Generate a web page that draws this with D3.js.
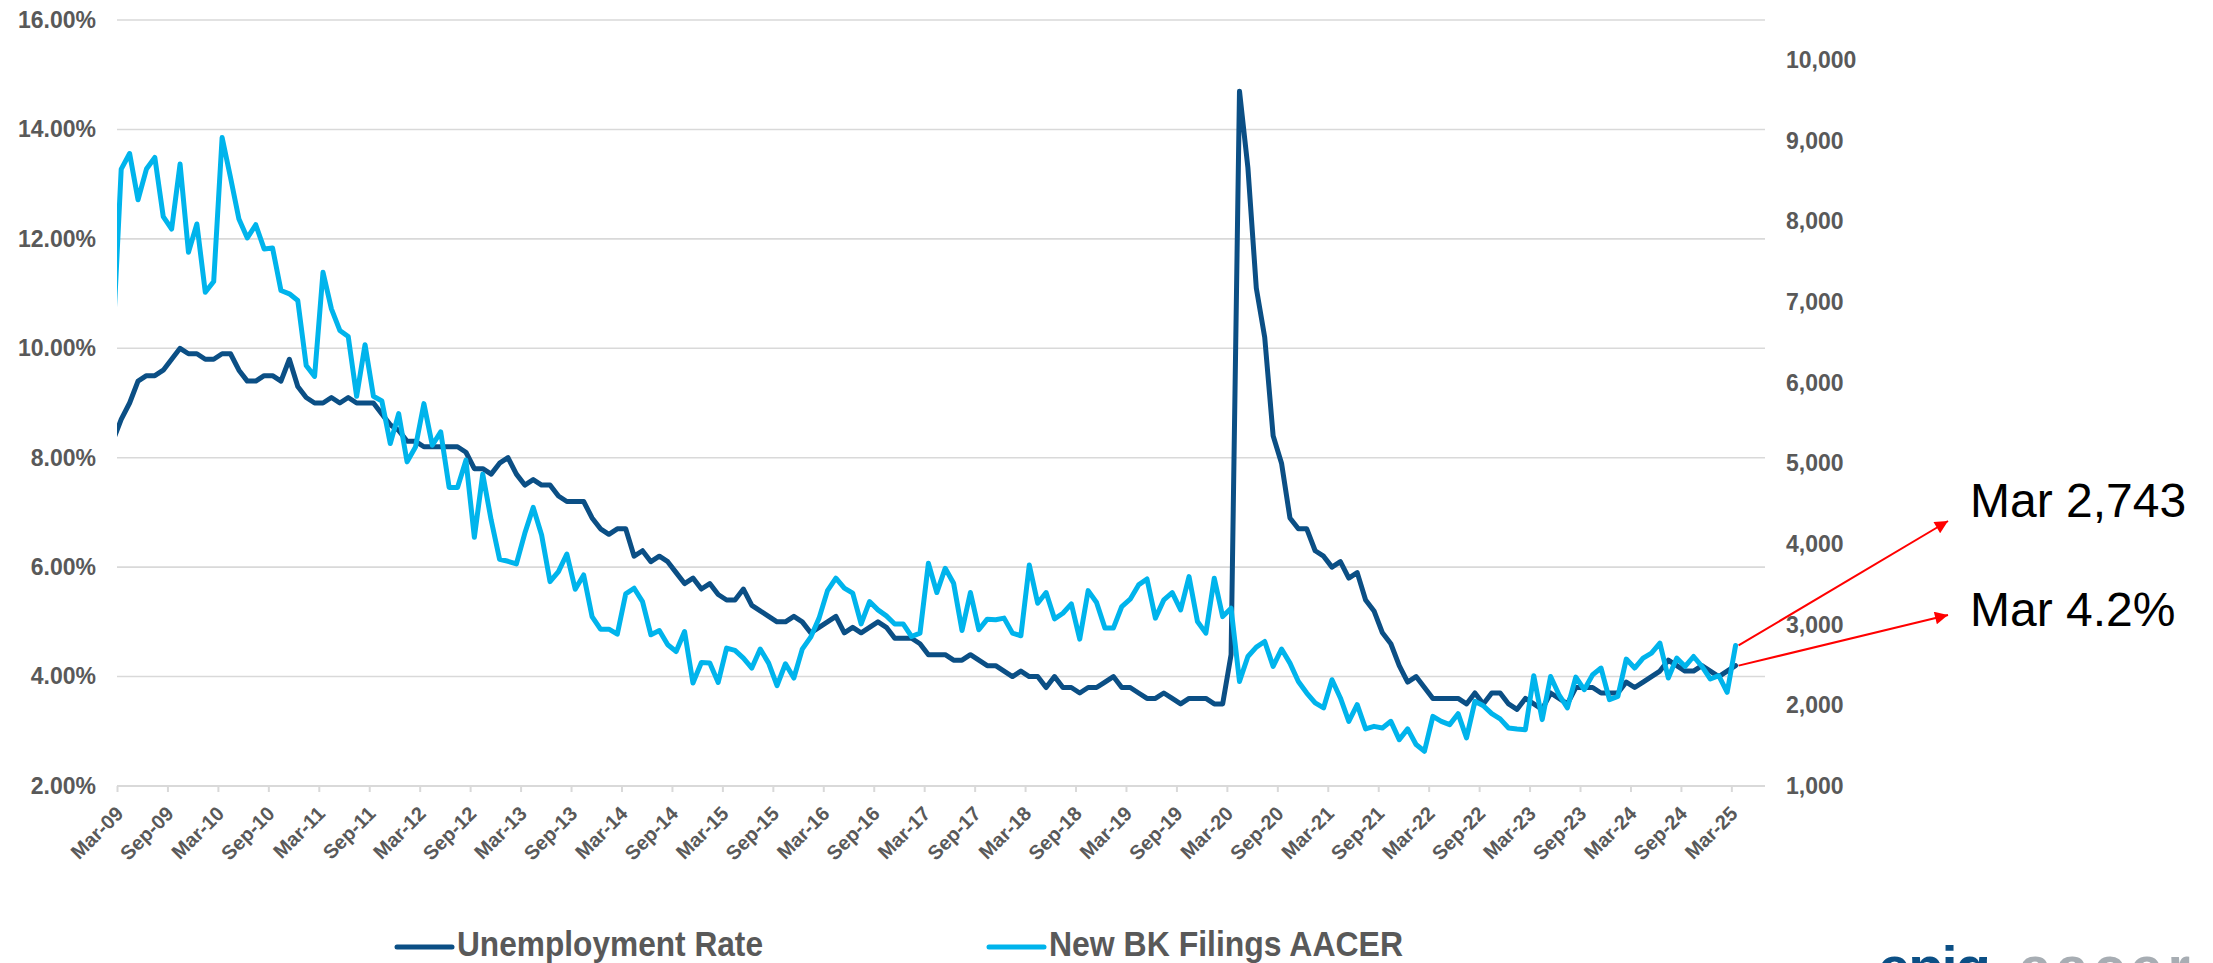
<!DOCTYPE html>
<html>
<head>
<meta charset="utf-8">
<script src="https://cdn.jsdelivr.net/npm/d3@7"></script>
<style>
  body { margin: 0; background: #fff; }
  text { font-family: "Liberation Sans", Arial, sans-serif; }
</style>
</head>
<body>
<div id="chart"></div>
<script>
// monthly series, Feb-09 .. Mar-25. Feb-09 sits left of the axis start and gets clipped.
const unemployment = [8.3,
  8.7, 9.0, 9.4, 9.5, 9.5, 9.6, 9.8, 10.0, 9.9, 9.9,
  9.8, 9.8, 9.9, 9.9, 9.6, 9.4, 9.4, 9.5, 9.5, 9.4, 9.8, 9.3,
  9.1, 9.0, 9.0, 9.1, 9.0, 9.1, 9.0, 9.0, 9.0, 8.8, 8.6, 8.5,
  8.3, 8.3, 8.2, 8.2, 8.2, 8.2, 8.2, 8.1, 7.8, 7.8, 7.7, 7.9,
  8.0, 7.7, 7.5, 7.6, 7.5, 7.5, 7.3, 7.2, 7.2, 7.2, 6.9, 6.7,
  6.6, 6.7, 6.7, 6.2, 6.3, 6.1, 6.2, 6.1, 5.9, 5.7, 5.8, 5.6,
  5.7, 5.5, 5.4, 5.4, 5.6, 5.3, 5.2, 5.1, 5.0, 5.0, 5.1, 5.0,
  4.8, 4.9, 5.0, 5.1, 4.8, 4.9, 4.8, 4.9, 5.0, 4.9, 4.7, 4.7,
  4.7, 4.6, 4.4, 4.4, 4.4, 4.3, 4.3, 4.4, 4.3, 4.2, 4.2, 4.1,
  4.0, 4.1, 4.0, 4.0, 3.8, 4.0, 3.8, 3.8, 3.7, 3.8, 3.8, 3.9,
  4.0, 3.8, 3.8, 3.7, 3.6, 3.6, 3.7, 3.6, 3.5, 3.6, 3.6, 3.6,
  3.5, 3.5, 4.4, 14.7, 13.3, 11.1, 10.2, 8.4, 7.9, 6.9, 6.7, 6.7,
  6.3, 6.2, 6.0, 6.1, 5.8, 5.9, 5.4, 5.2, 4.8, 4.6, 4.2, 3.9,
  4.0, 3.8, 3.6, 3.6, 3.6, 3.6, 3.5, 3.7, 3.5, 3.7, 3.7, 3.5,
  3.4, 3.6, 3.5, 3.4, 3.7, 3.6, 3.5, 3.8, 3.8, 3.8, 3.7, 3.7,
  3.7, 3.9, 3.8, 3.9, 4.0, 4.1, 4.3, 4.2, 4.1, 4.1, 4.2, 4.1,
  4.0, 4.1, 4.2];

const bkFilings = [6500,
  8651, 8844, 8271, 8651, 8795, 8061, 7908, 8713, 7619, 7970,
  7124, 7256, 9042, 8547, 8032, 7797, 7961, 7661, 7673, 7145, 7104, 7021,
  6216, 6080, 7371, 6918, 6650, 6575, 5833, 6473, 5833, 5775, 5247, 5619,
  5020, 5205, 5742, 5226, 5391, 4703, 4703, 5041, 4084, 4868, 4298, 3812,
  3787, 3754, 4134, 4455, 4113, 3535, 3659, 3877, 3440, 3618, 3101, 2945,
  2945, 2883, 3382, 3453, 3287, 2875, 2928, 2751, 2668, 2916, 2277, 2532,
  2524, 2285, 2710, 2681, 2586, 2463, 2698, 2524, 2244, 2516, 2339, 2698,
  2846, 3082, 3423, 3577, 3453, 3391, 3010, 3287, 3184, 3110, 3010, 3010,
  2854, 2896, 3762, 3399, 3700, 3515, 2928, 3399, 2937, 3069, 3061, 3082,
  2896, 2863, 3741, 3267, 3399, 3073, 3143, 3259, 2822, 3423, 3275, 2958,
  2958, 3226, 3317, 3494, 3568, 3082, 3308, 3399, 3184, 3597, 3040, 2896,
  3577, 3101, 3205, 2297, 2606, 2723, 2792, 2483, 2698, 2524, 2297, 2153,
  2030, 1968, 2318, 2092, 1802, 2009, 1708, 1740, 1720, 1802, 1575, 1708,
  1514, 1431, 1864, 1802, 1761, 1897, 1597, 2050, 1996, 1897, 1832, 1720,
  1708, 1699, 2368, 1823, 2359, 2132, 1968, 2351, 2194, 2380, 2463, 2071,
  2111, 2574, 2463, 2586, 2648, 2772, 2339, 2586, 2483, 2606, 2483, 2327,
  2368, 2161, 2743];

const xTickLabels = ["Mar-09","Sep-09","Mar-10","Sep-10","Mar-11","Sep-11","Mar-12","Sep-12",
  "Mar-13","Sep-13","Mar-14","Sep-14","Mar-15","Sep-15","Mar-16","Sep-16","Mar-17","Sep-17",
  "Mar-18","Sep-18","Mar-19","Sep-19","Mar-20","Sep-20","Mar-21","Sep-21","Mar-22","Sep-22",
  "Mar-23","Sep-23","Mar-24","Sep-24","Mar-25"];
const leftTicks = [2, 4, 6, 8, 10, 12, 14, 16];
const rightTicks = [1000, 2000, 3000, 4000, 5000, 6000, 7000, 8000, 9000, 10000];
const seriesNames = ["Unemployment Rate", "New BK Filings AACER"];
const callouts = ["Mar 2,743", "Mar 4.2%"];

const W = 2213, H = 963;
const plot = {left: 117, right: 1765, top: 20, bottom: 786};
const darkBlue = "#0b4f85", lightBlue = "#00b4ec", grey = "#595959";

const svg = d3.select("#chart").append("svg")
    .attr("width", W)
    .attr("height", H);

// month slots: slot 0 = Mar-09, axis runs to the end of Jun-25, points sit mid-slot
const x = d3.scaleLinear().domain([0, 196]).range([plot.left, plot.right]);
const yL = d3.scaleLinear().domain([2, 16]).range([plot.bottom, plot.top]);
const yR = d3.scaleLinear().domain([1000, 10500]).range([plot.bottom, plot.top]);
const pos = i => x(i - 0.5);   // i = 0 is Feb-09

// gridlines
svg.append("g")
  .selectAll("line")
  .data(leftTicks.slice(1))
  .join("line")
    .attr("x1", plot.left).attr("x2", plot.right)
    .attr("y1", d => yL(d)).attr("y2", d => yL(d))
    .attr("stroke", "#d9d9d9")
    .attr("stroke-width", 1.6);

// left axis labels
svg.append("g")
    .attr("transform", `translate(${plot.left},0)`)
    .call(d3.axisLeft(yL).tickValues(leftTicks).tickSize(0).tickPadding(21)
      .tickFormat(d => d.toFixed(2) + "%"))
    .call(g => g.select(".domain").remove())
    .selectAll("text")
      .attr("fill", grey)
      .style("font-size", "23px")
      .style("font-weight", "bold");

// right axis labels
svg.append("g")
    .attr("transform", `translate(${plot.right},0)`)
    .call(d3.axisRight(yR).tickValues(rightTicks).tickSize(0).tickPadding(21)
      .tickFormat(d3.format(",")))
    .call(g => g.select(".domain").remove())
    .selectAll("text")
      .attr("fill", grey)
      .style("font-size", "23px")
      .style("font-weight", "bold");

// x axis
const xAxis = svg.append("g")
    .attr("transform", `translate(0,${plot.bottom})`)
    .call(d3.axisBottom(x).tickValues(d3.range(0, 193, 6)).tickSize(6)
      .tickFormat((d, i) => xTickLabels[i]));
xAxis.select(".domain")
    .attr("d", `M${plot.left},0H${plot.right}`)
    .attr("stroke", "#d9d9d9")
    .attr("stroke-width", 2);
xAxis.selectAll(".tick line")
    .attr("stroke", "#d9d9d9")
    .attr("stroke-width", 2);
xAxis.selectAll("text")
    .attr("x", 0).attr("y", 0).attr("dy", 0)
    .attr("text-anchor", "end")
    .attr("transform", "translate(7,29) rotate(-45)")
    .attr("fill", grey)
    .style("font-size", "20px")
    .style("font-weight", "bold");

// lines
svg.append("clipPath").attr("id", "plotClip")
  .append("rect")
    .attr("x", plot.left).attr("y", 0)
    .attr("width", plot.right - plot.left).attr("height", H);

const lineL = d3.line().x((d, i) => pos(i)).y(d => yL(d));
const lineR = d3.line().x((d, i) => pos(i)).y(d => yR(d));

svg.append("path")
    .datum(unemployment)
    .attr("clip-path", "url(#plotClip)")
    .attr("fill", "none")
    .attr("stroke", darkBlue)
    .attr("stroke-width", 5)
    .attr("stroke-linejoin", "round")
    .attr("stroke-linecap", "round")
    .attr("d", lineL);

svg.append("path")
    .datum(bkFilings)
    .attr("clip-path", "url(#plotClip)")
    .attr("fill", "none")
    .attr("stroke", lightBlue)
    .attr("stroke-width", 5)
    .attr("stroke-linejoin", "round")
    .attr("stroke-linecap", "round")
    .attr("d", lineR);

// call-outs for the latest month
svg.append("defs").append("marker")
    .attr("id", "arrow")
    .attr("viewBox", "0 0 10 10")
    .attr("refX", 10).attr("refY", 5)
    .attr("markerUnits", "userSpaceOnUse")
    .attr("markerWidth", 16).attr("markerHeight", 13)
    .attr("orient", "auto")
  .append("path")
    .attr("d", "M0,0L10,5L0,10Z")
    .attr("fill", "#ff0000");

const last = unemployment.length - 1;
const arrows = [
  {x0: pos(last), y0: yR(bkFilings[last]), x1: 1948, y1: 521, label: callouts[0], ty: 517},
  {x0: pos(last), y0: yL(unemployment[last]), x1: 1948, y1: 615, label: callouts[1], ty: 626}
];
svg.append("g")
  .selectAll("line")
  .data(arrows)
  .join("line")
    .attr("x1", d => d.x0 + 3).attr("y1", d => d.y0)
    .attr("x2", d => d.x1).attr("y2", d => d.y1)
    .attr("stroke", "#ff0000")
    .attr("stroke-width", 2)
    .attr("marker-end", "url(#arrow)");
svg.append("g")
  .selectAll("text")
  .data(arrows)
  .join("text")
    .attr("x", 1970).attr("y", d => d.ty)
    .attr("fill", "#000")
    .style("font-size", "48px")
    .text(d => d.label);

// legend
const legend = svg.append("g")
  .selectAll("g")
  .data([{name: seriesNames[0], color: darkBlue, x: 397, w: 306},
         {name: seriesNames[1], color: lightBlue, x: 989, w: 354}])
  .join("g")
    .attr("transform", d => `translate(${d.x},947)`);
legend.append("line")
    .attr("x1", 0).attr("x2", 55)
    .attr("stroke", d => d.color)
    .attr("stroke-width", 5)
    .attr("stroke-linecap", "round");
legend.append("text")
    .attr("x", 60).attr("y", 9)
    .attr("textLength", d => d.w)
    .attr("lengthAdjust", "spacingAndGlyphs")
    .attr("fill", grey)
    .style("font-size", "35px")
    .style("font-weight", "bold")
    .text(d => d.name);

// logo, cut off at the bottom edge as in the source image
svg.append("text")
    .attr("x", 1878).attr("y", 987)
    .attr("textLength", 113)
    .attr("fill", darkBlue)
    .style("font-size", "58px")
    .style("font-weight", "bold")
    .text("epiq");
svg.append("text")
    .attr("x", 2019).attr("y", 987)
    .attr("textLength", 171)
    .attr("fill", "#a7adb3")
    .style("font-size", "58px")
    .style("font-weight", "bold")
    .text("aacer");
</script>
</body>
</html>
